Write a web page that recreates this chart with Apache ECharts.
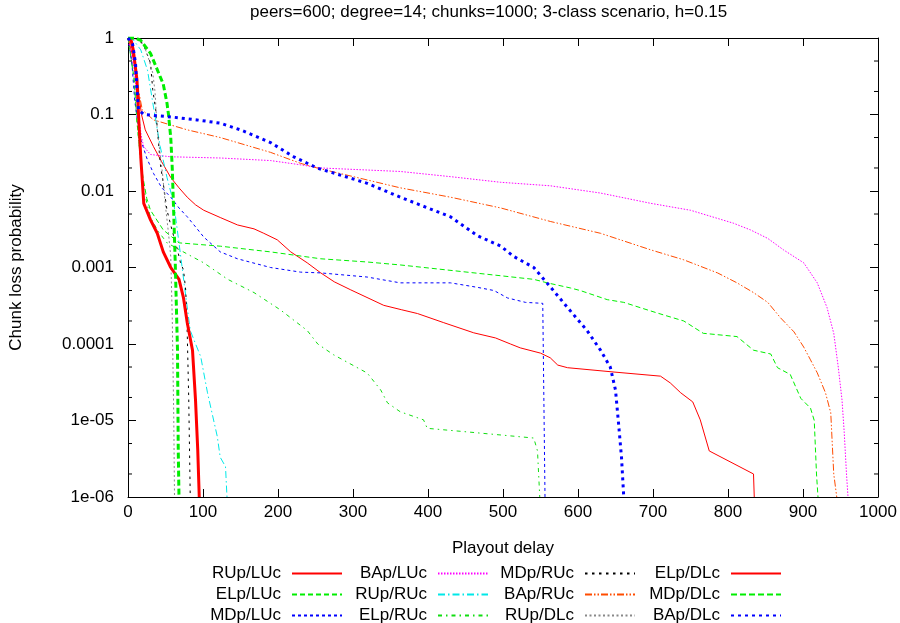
<!DOCTYPE html>
<html><head><meta charset="utf-8">
<script src="https://cdn.jsdelivr.net/npm/echarts@6/dist/echarts.min.js"></script>
<style>html,body{margin:0;padding:0;background:#fff}#c{width:900px;height:623px}</style>
</head><body><div id="c"></div>
<script>
const titleText = 'peers=600; degree=14; chunks=1000; 3-class scenario, h=0.15';
const xName = 'Playout delay';
const yName = 'Chunk loss probability';
const yTickLabels = ['1','0.1','0.01','0.001','0.0001','1e-05','1e-06'];
const minorTickValues = [0.5,0.2,0.05,0.02,0.005,0.002,0.0005,0.0002,0.00005,0.00002,0.000005,0.000002];

const RUp_LUc = [[0,1],[8,0.5],[14,0.2],[18,0.1],[23,0.063],[34,0.038],[45,0.024],[57,0.015],[68,0.011],[79,0.0083],[90,0.0066],[101,0.0056],[123,0.0045],[146,0.0036],[168,0.0032],[181,0.0028],[199,0.0023],[217,0.0016],[239,0.00115],[257,0.00085],[275,0.00065],[297,0.00051],[320,0.0004],[341,0.00032],[365,0.00028],[386,0.00025],[421,0.00019],[461,0.00014],[490,0.00012],[510,0.0001],[523,0.000089],[550,0.000076],[563,0.000066],[573,0.000053],[586,0.000049],[648,0.000043],[710,0.000038],[723,0.000031],[737,0.000023],[753,0.0000175],[763,0.0000102],[775,0.000004],[834,0.000002],[835,0.000001]];
const ELp_LUc = [[0,1],[8,0.3],[12,0.08],[16,0.03],[20,0.015],[25,0.008],[30,0.0056],[47,0.0031],[68,0.0021],[123,0.0019],[190,0.0016],[257,0.0013],[319,0.00118],[363,0.00108],[452,0.00087],[497,0.00078],[541,0.0007],[559,0.00063],[590,0.00054],[603,0.0005],[639,0.00038],[661,0.00035],[692,0.00028],[714,0.00024],[741,0.0002],[767,0.000138],[812,0.000125],[834,0.000083],[857,0.000074],[866,0.000049],[883,0.00004],[897,0.0000195],[910,0.0000145],[915,0.00001],[918,0.000002],[920,0.000001]];
const MDp_LUc = [[0,1],[5,0.5],[9,0.15],[13,0.08],[17,0.047],[25,0.027],[34,0.017],[45,0.011],[57,0.0083],[68,0.006],[79,0.0046],[90,0.0034],[101,0.0025],[112,0.002],[123,0.0016],[146,0.0013],[190,0.001],[230,0.00087],[257,0.00085],[319,0.00075],[363,0.00063],[430,0.00063],[466,0.00055],[488,0.0005],[506,0.0004],[530,0.00035],[553,0.00034],[556,0.000001]];
const BAp_LUc = [[0,1],[8,0.4],[14,0.1],[18,0.05],[21,0.038],[30,0.03],[57,0.028],[123,0.027],[190,0.025],[230,0.022],[257,0.02],[363,0.018],[430,0.0154],[497,0.013],[563,0.0117],[630,0.0094],[697,0.0069],[750,0.0056],[807,0.0038],[830,0.0031],[853,0.0024],[874,0.0017],[901,0.00115],[919,0.00063],[932,0.0003],[941,0.000138],[947,0.00005],[952,0.0000186],[955,0.0000069],[958,0.000002],[960,0.000001]];
const RUp_RUc = [[0,1],[7,0.95],[17,0.7],[26,0.38],[34,0.125],[43,0.038],[52,0.015],[61,0.0069],[68,0.0021],[75,0.0006],[83,0.00015],[97,0.000068],[106,0.000023],[119,0.0000062],[123,0.0000033],[130,0.0000025],[132,0.000001]];
const ELp_RUc = [[0,1],[8,0.3],[12,0.08],[16,0.03],[20,0.012],[25,0.007],[30,0.0045],[40,0.003],[52,0.0021],[79,0.0015],[101,0.00115],[133,0.0007],[168,0.00047],[203,0.00028],[239,0.00015],[253,0.0001],[274,0.0000724],[319,0.0000417],[337,0.000025],[346,0.000017],[363,0.000013],[394,0.0000102],[399,0.0000079],[452,0.0000071],[541,0.0000059],[546,0.000004],[549,0.000001]];
const MDp_RUc = [[0,1],[15,0.97],[21,0.8],[30,0.47],[33,0.21],[37,0.115],[43,0.023],[47,0.0126],[52,0.0056],[59,0.003],[66,0.0017],[70,0.00115],[74,0.00093],[77,0.0005],[79,0.000138],[81,0.0000186],[83,0.000001]];
const BAp_RUc = [[0,1],[8,0.6],[12,0.3],[14,0.21],[19,0.115],[34,0.085],[79,0.063],[123,0.05],[190,0.032],[230,0.023],[252,0.02],[363,0.011],[430,0.0083],[497,0.006],[563,0.004],[630,0.0028],[697,0.0017],[741,0.00126],[786,0.00085],[812,0.00063],[834,0.00047],[853,0.00035],[870,0.00022],[888,0.000144],[901,0.000091],[910,0.000062],[919,0.000042],[930,0.000023],[937,0.0000126],[941,0.000002],[945,0.000001]];
const RUp_DLc = [[0,1],[12,0.95],[21,0.8],[26,0.6],[33,0.35],[36,0.2],[39,0.063],[46,0.017],[50,0.0063],[54,0.0028],[57,0.0014],[59,0.00022],[61,0.0000112],[62,0.000001]];
const ELp_DLc = [[0,1],[4,0.95],[7,0.7],[12,0.28],[14,0.1],[17,0.028],[19,0.014],[21,0.0069],[30,0.0042],[39,0.0028],[47,0.0016],[57,0.001],[68,0.0007],[74,0.0004],[79,0.00019],[86,0.000083],[90,0.0000186],[93,0.0000041],[95,0.000001]];
const MDp_DLc = [[0,1],[10,1],[17,0.93],[30,0.63],[43,0.31],[47,0.25],[52,0.14],[54,0.1],[57,0.05],[59,0.02],[61,0.005],[63,0.00115],[66,0.000083],[67,0.0000041],[68,0.000001]];
const BAp_DLc = [[0,1],[6,0.85],[10,0.47],[12,0.21],[14,0.115],[21,0.1],[57,0.093],[92,0.085],[123,0.077],[150,0.063],[190,0.043],[221,0.028],[252,0.02],[319,0.0126],[363,0.0083],[430,0.0046],[466,0.0026],[497,0.0019],[514,0.0014],[541,0.001],[563,0.00056],[586,0.0003],[612,0.00015],[630,0.000083],[643,0.00005],[650,0.000025],[654,0.0000093],[658,0.0000033],[661,0.000001]];

const seriesNames = ['RUp/LUc','ELp/LUc','MDp/LUc','BAp/LUc','RUp/RUc','ELp/RUc','MDp/RUc','BAp/RUc','RUp/DLc','ELp/DLc','MDp/DLc','BAp/DLc'];
const seriesData = [RUp_LUc,ELp_LUc,MDp_LUc,BAp_LUc,RUp_RUc,ELp_RUc,MDp_RUc,BAp_RUc,RUp_DLc,ELp_DLc,MDp_DLc,BAp_DLc];
const styles = [
  {color:'#ff0000', width:1, type:'solid'},
  {color:'#00ee00', width:1, type:[5,3]},
  {color:'#0000ff', width:1, type:[3,3]},
  {color:'#ff00ff', width:1, type:[1.5,1.5]},
  {color:'#00e8e8', width:1, type:[7,3,1.5,3]},
  {color:'#11dd11', width:1, type:[4,4,1.5,4]},
  {color:'#000000', width:1, type:[2.5,4.5]},
  {color:'#ff4c00', width:1, type:[7,2,1.5,2,1.5,2]},
  {color:'#888888', width:1, type:[2,2.5]},
  {color:'#ff0000', width:3, type:'solid'},
  {color:'#00ee00', width:3, type:[6,3]},
  {color:'#0000ff', width:3, type:[3,4]}
];

const FONT = 'Liberation Sans, Arial, sans-serif';
const series = seriesNames.map((n,i)=>({
  name:n, type:'line', data:seriesData[i], symbol:'none',
  lineStyle:{color:styles[i].color, width:styles[i].width, type:styles[i].type},
  itemStyle:{color:styles[i].color}, z: 2, animation:false, clip:true
}));
series.push({
  type:'custom', silent:true, animation:false, z:3,
  data: minorTickValues.map(v=>[0,v]),
  renderItem:(params, api)=>{
    const pl = api.coord([0, api.value(1)]);
    const pr = api.coord([1000, api.value(1)]);
    return {type:'group', children:[
      {type:'line', shape:{x1:pl[0], y1:pl[1], x2:pl[0]+4, y2:pl[1]}, style:{stroke:'#000', lineWidth:1}},
      {type:'line', shape:{x1:pr[0]-4, y1:pr[1], x2:pr[0], y2:pr[1]}, style:{stroke:'#000', lineWidth:1}}
    ]};
  }
});

const cols = [seriesNames.slice(0,3), seriesNames.slice(3,6), seriesNames.slice(6,9), seriesNames.slice(9,12)];
const colRight = [557, 411, 264, 118];
const legends = cols.map((c,i)=>({
  data:c, orient:'vertical', align:'right', right:colRight[i], top:565, height:80, padding:0,
  itemWidth:50, itemHeight:14, itemGap:4, selectedMode:false,
  itemStyle:{opacity:0},
  textStyle:{fontSize:17, color:'#000', fontFamily:FONT, padding:[0,6,0,0]}
}));

const axisCommon = {
  axisLine:{show:true, onZero:false, lineStyle:{color:'#000', width:1}},
  axisTick:{show:true, inside:true, length:8, lineStyle:{color:'#000'}},
  splitLine:{show:false}
};

const chart = echarts.init(document.getElementById('c'), null, {renderer:'canvas'});
chart.setOption({
  animation:false,
  backgroundColor:'#fff',
  graphic:[{type:'text', left:250, top:4, style:{text:titleText, fontSize:17, fontFamily:FONT, fill:'#000'}}],
  legend: legends,
  grid:{left:127, right:22, top:38, bottom:126},
  xAxis:[
    Object.assign({type:'value', min:0, max:1000, interval:100, position:'bottom',
      name:xName, nameLocation:'middle', nameGap:43,
      nameTextStyle:{fontSize:17, color:'#000', fontFamily:FONT},
      axisLabel:{fontSize:17, color:'#000', fontFamily:FONT, margin:7, formatter:(v)=>String(v)}}, axisCommon),
    Object.assign({type:'value', min:0, max:1000, interval:100, position:'top',
      axisLabel:{show:false}}, axisCommon)
  ],
  yAxis:[
    Object.assign({type:'log', min:1e-6, max:1, logBase:10, interval:1, position:'left',
      name:yName, nameLocation:'middle', nameGap:103, nameRotate:90,
      nameTextStyle:{fontSize:17, color:'#000', fontFamily:FONT},
      axisLabel:{fontSize:17, color:'#000', fontFamily:FONT, margin:14,
        formatter:(v)=>yTickLabels[Math.round(-Math.log10(v))] || ''}}, axisCommon),
    Object.assign({type:'log', min:1e-6, max:1, logBase:10, interval:1, position:'right',
      axisLabel:{show:false}}, axisCommon)
  ],
  series: series
});
</script></body></html>
